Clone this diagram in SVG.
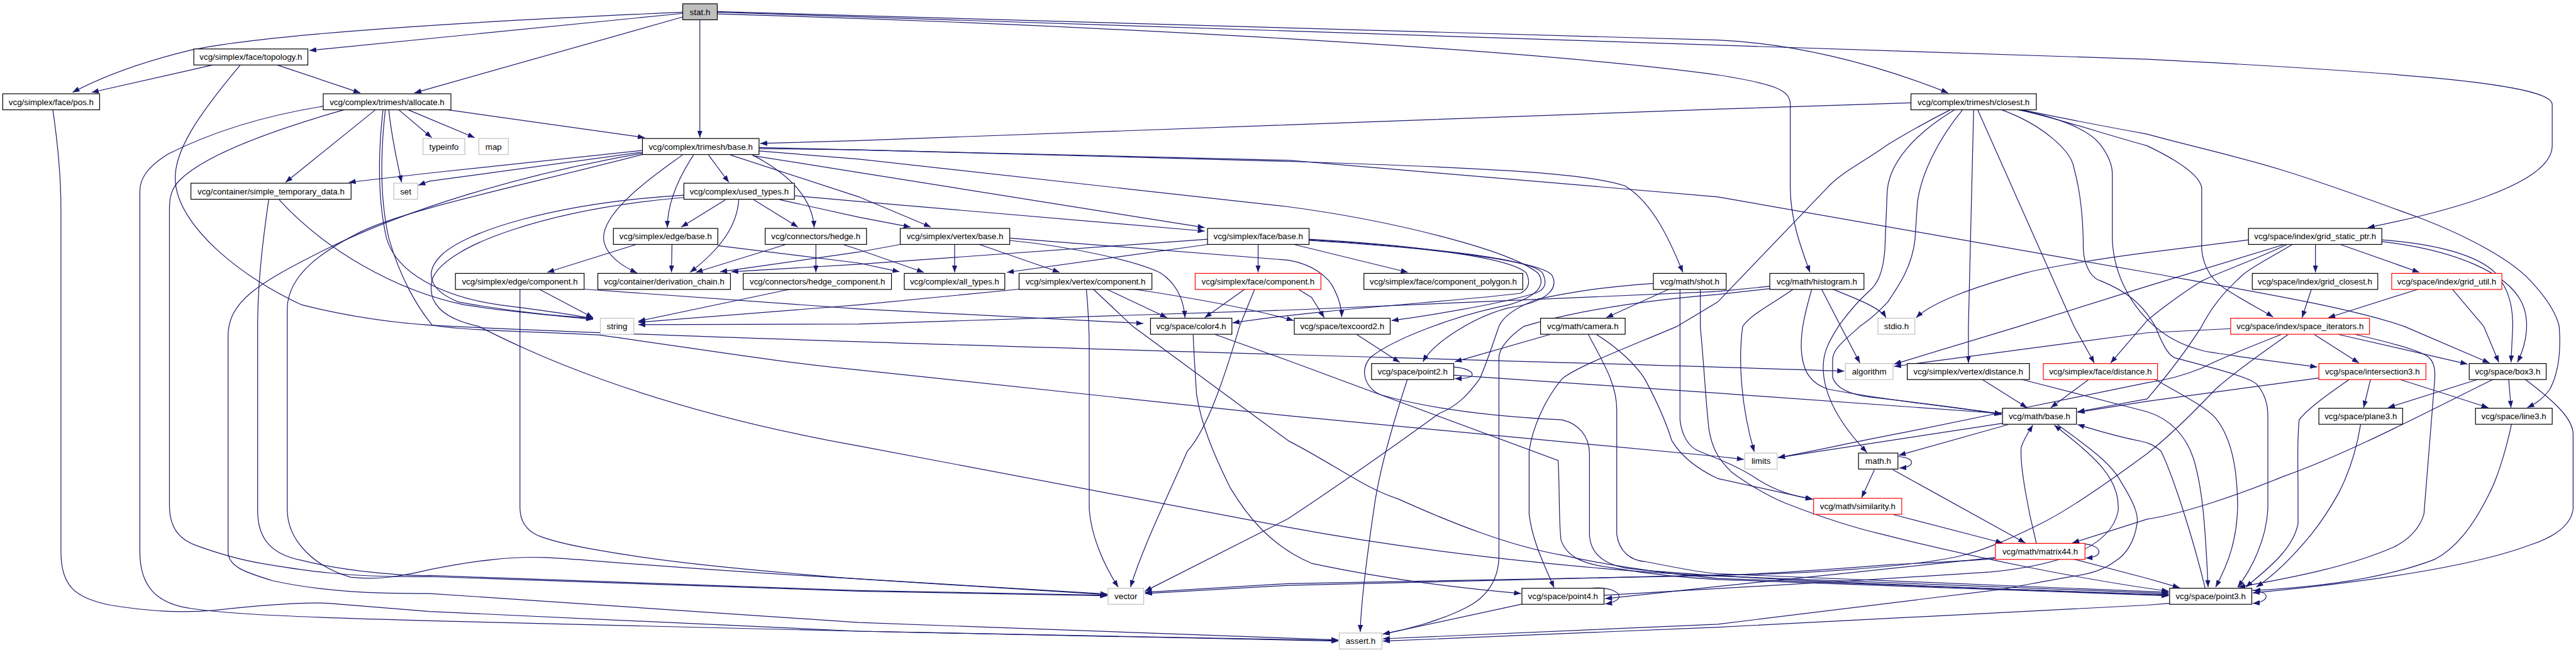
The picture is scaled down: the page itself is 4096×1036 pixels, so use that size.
<svg xmlns="http://www.w3.org/2000/svg" width="4096" height="1036" viewBox="0 0 4096 1036">
<defs>
<marker id="a" markerUnits="userSpaceOnUse" viewBox="0 0 12 9" markerWidth="12" markerHeight="9" refX="12" refY="4.5" orient="auto"><path d="M0,0 L12,4.5 L0,9 z" fill="#191970"/></marker>
<style>
.nd rect{fill:#fff;stroke:#000;stroke-width:1.3}
.nd.red rect{stroke:#ff0000}
.nd.sys rect{stroke:#bfbfbf}
.nd.root rect{fill:#bfbfbf}
.nd text{font-family:"Liberation Sans",Arial,sans-serif;font-size:14.5px;fill:#000;text-anchor:middle}
#edges path{fill:none;stroke:#191970;stroke-width:1.3;marker-end:url(#a)}
</style>
</defs>
<rect width="4096" height="1036" fill="#fff"/>
<g transform="scale(0.922731)">
<g id="edges">
<path d="M1177,23 L533,87"/>
<path d="M1177,21 C900,33 480,55 330,86 C250,105 180,130 125,159"/>
<path d="M1177,29 L714,160"/>
<path d="M1206,35 L1206,237"/>
<path d="M1236,20 L2960,69 C3080,74 3220,105 3357,160"/>
<path d="M1236,21 L3700,102 C4150,125 4398,145 4398,180 L4398,251 C4398,320 4200,368 4080,392"/>
<path d="M1236,24 C1800,40 2600,80 2960,129 C3060,145 3085,155 3085,180 L3085,322 C3085,380 3105,430 3119,469"/>
<path d="M366,112 L158,159"/>
<path d="M478,112 L621,160"/>
<path d="M414,112 C340,200 300,260 302,310 C305,390 420,480 520,525 C620,550 700,558 760,561 C1300,588 2500,617 3178,639"/>
<path d="M687,189 L744,237"/>
<path d="M703,189 L818,237"/>
<path d="M771,189 L1111,237"/>
<path d="M670,189 C675,240 685,280 692,314"/>
<path d="M647,189 L492,314"/>
<path d="M557,183 C450,200 360,230 290,265 C250,290 241,310 241,330 L241,950 C241,1010 270,1040 330,1048 C400,1058 500,1062 740,1069 L1480,1087 L2306,1104"/>
<path d="M593,189 C450,230 350,270 310,310 C295,325 292,340 292,360 L292,870 C292,910 310,930 340,940 C390,958 420,965 450,970 C520,982 600,995 740,993 L1480,1018 L1908,1026"/>
<path d="M660,189 C652,260 650,340 666,410 C683,470 760,510 860,525 C940,535 990,542 1022,549"/>
<path d="M664,189 C656,260 654,340 670,410 C690,480 720,530 745,560 C800,570 950,572 1033,577 C1200,600 1350,625 1480,637 L2220,716 L2960,786 L3005,791"/>
<path d="M91,189 C100,250 105,300 105,360 L105,950 C105,1010 130,1030 190,1042 C240,1050 300,1057 368,1051 C450,1042 520,1036 566,1039 C640,1045 700,1050 740,1053 L1480,1087 L2306,1103"/>
<path d="M463,344 C455,400 444,480 444,560 L444,880 C444,930 470,955 520,965 C600,985 700,992 740,991 L1480,1017 L1908,1025"/>
<path d="M481,344 C560,430 680,500 800,525 C900,540 980,545 1022,550"/>
<path d="M1107,259 L740,298 L601,314"/>
<path d="M1107,262 L740,312 L721,319"/>
<path d="M1107,264 C900,300 700,360 560,430 C440,490 393,520 393,580 L393,950 C393,975 420,985 470,1000 C560,1020 650,1022 740,1022 L1480,1072 L2306,1102"/>
<path d="M1107,266 C900,320 700,360 620,400 C540,440 497,480 495,530 L495,877 C495,930 540,975 604,994 C660,1000 700,990 740,981 C820,965 880,958 940,960 C1000,962 1100,975 1480,997 L1908,1023"/>
<path d="M1221,267 L1256,314"/>
<path d="M1195,267 C1170,305 1150,350 1150,392"/>
<path d="M1176,267 C1100,320 1040,370 1040,410 C1042,440 1075,460 1098,470"/>
<path d="M1297,267 C1360,300 1400,340 1403,392"/>
<path d="M1259,267 L1480,339 L1604,391"/>
<path d="M1297,268 L1480,297 L2076,392"/>
<path d="M1308,256 L1480,258 L2220,278 C2600,290 2740,300 2800,320 C2850,350 2880,420 2900,469"/>
<path d="M1308,254 L2220,276 L2960,339 L3700,469 C3900,505 4050,530 4143,562 L4290,625"/>
<path d="M1308,260 L1480,274 L2220,356 C2400,380 2600,430 2650,470 C2665,490 2650,510 2600,525 C2500,545 2400,585 2362,615 C2340,640 2355,670 2380,680 C2450,700 2550,716 2692,723 C2720,730 2738,750 2739,780 L2739,920 C2740,950 2760,970 2800,978 C2900,992 3300,1010 3737,1024"/>
<path d="M3293,177 L2960,188 L2220,215 L1480,242 L1310,247"/>
<path d="M1096,421 L943,469"/>
<path d="M1158,421 L1157,469"/>
<path d="M1237,423 L1480,453 L1550,468"/>
<path d="M1250,344 L1174,391"/>
<path d="M1299,344 L1375,391"/>
<path d="M1273,344 C1270,390 1240,430 1189,469"/>
<path d="M1344,344 L1480,374 L1569,391"/>
<path d="M1369,337 L1480,347 L2076,398"/>
<path d="M1178,336 C950,350 800,400 760,440 C730,470 740,500 790,520 C900,540 980,545 1022,548"/>
<path d="M1178,340 C950,360 770,420 745,480 C735,520 760,548 825,562 C900,600 1100,700 1480,768 L2220,908 C2500,960 2800,985 2960,992 L3737,1022"/>
<path d="M1354,421 L1199,469"/>
<path d="M1406,421 L1406,469"/>
<path d="M1453,421 L1480,430 L1592,469"/>
<path d="M1551,421 L1480,434 L1241,468"/>
<path d="M1645,421 L1645,469"/>
<path d="M1688,421 L1826,469"/>
<path d="M1740,410 L2220,448 C2260,455 2290,475 2300,500 C2310,520 2312,535 2312,546"/>
<path d="M1740,414 C1850,425 1960,450 2000,470 C2030,490 2040,520 2042,547"/>
<path d="M2081,412 L1480,455 L1260,468"/>
<path d="M2081,421 L1735,469"/>
<path d="M2168,421 L2168,469"/>
<path d="M2230,421 L2426,469"/>
<path d="M2256,412 C2400,420 2600,440 2630,470 C2640,490 2630,500 2620,505 C2500,520 2300,530 2124,556"/>
<path d="M2256,413 C2450,425 2640,445 2658,470 C2668,490 2660,500 2645,505 C2580,525 2450,545 2398,552"/>
<path d="M2256,414 C2480,428 2660,450 2675,475 C2685,495 2670,520 2600,530 C2540,545 2470,590 2452,623"/>
<path d="M929,498 L1022,547"/>
<path d="M896,498 L896,874 C896,900 910,915 929,923 C960,935 1000,942 1023,946 C1100,960 1200,975 1480,997 L1908,1024"/>
<path d="M1007,498 L1480,532 L1970,557"/>
<path d="M1362,498 L1100,553"/>
<path d="M1756,498 L1480,525 L1100,555"/>
<path d="M1872,498 C1875,530 1877,560 1877,600 L1877,877 C1880,920 1900,970 1927,1011"/>
<path d="M1884,498 L1952,562 L2220,759 C2300,800 2350,840 2409,859 C2500,900 2600,940 2692,956 C2800,980 2900,990 2960,996 L3737,1025"/>
<path d="M1907,498 L2011,547"/>
<path d="M1954,498 C2100,520 2180,538 2229,552"/>
<path d="M2145,498 L2076,547"/>
<path d="M2162,498 L2136,562 C2110,650 2080,740 2046,777 C2010,860 1970,940 1948,1011"/>
<path d="M2237,498 L2260,512 L2282,547"/>
<path d="M2056,576 C2058,620 2060,650 2062,680 C2070,730 2090,780 2120,840 C2150,890 2190,940 2260,970 C2400,1000 2540,1015 2621,1022"/>
<path d="M2094,576 L2220,621 L2685,793 C2688,850 2686,900 2690,930 C2700,960 2730,972 2780,978 C2850,990 2900,995 2960,998 L3737,1026"/>
<path d="M2338,576 L2412,624"/>
<path d="M2425,654 C2400,730 2380,800 2370,860 C2355,960 2345,1040 2344,1088"/>
<path d="M2505,632 C2528,634 2537,640 2537,645 C2537,650 2527,652 2507,652"/>
<path d="M2505,646 L2960,677 L3449,712"/>
<path d="M2624,1040 L2383,1092"/>
<path d="M2740,1013 C2775,1010 2790,1020 2790,1027 C2790,1033 2780,1038 2766,1040"/>
<path d="M2764,1025 C2900,1018 3200,1000 3430,985 C3580,970 3640,930 3650,880 C3655,820 3600,780 3540,732"/>
<path d="M3438,960 C3300,975 3100,995 2960,1010 L2766,1031"/>
<path d="M3158,498 C3200,515 3240,530 3250,547"/>
<path d="M3139,498 L3172,562 L3205,625"/>
<path d="M3122,498 C3110,540 3103,570 3104,600 C3106,640 3120,660 3150,670 C3250,690 3400,705 3449,713"/>
<path d="M3090,498 C3060,520 3018,540 3003,562 C2995,620 3000,700 3023,778"/>
<path d="M3050,493 L2960,502 L2220,534 L1480,558 L1100,559"/>
<path d="M3050,497 L2960,507 C2800,520 2700,540 2626,562 C2600,580 2583,600 2583,616 L2583,956 C2583,1000 2560,1030 2527,1046 C2480,1070 2420,1085 2383,1092"/>
<path d="M2876,498 L2768,547"/>
<path d="M2849,488 C2750,495 2700,505 2650,515 C2610,530 2590,545 2583,562 C2570,600 2560,630 2550,652 C2530,680 2510,700 2480,712 C2400,770 2300,840 2220,893 L1973,1018"/>
<path d="M2895,498 L2895,723 C2898,750 2910,770 2928,777 C2960,790 3000,805 3031,827 C3060,845 3090,855 3123,859"/>
<path d="M2930,498 L2930,562 C2938,650 2940,700 2945,740 C2950,770 2960,790 2984,813 C3020,840 3060,860 3078,867 C3150,895 3200,910 3243,920 C3400,960 3600,1000 3737,1018"/>
<path d="M2671,576 L2507,623"/>
<path d="M2737,576 C2760,620 2786,660 2786,705 L2786,920 C2790,950 2810,965 2834,967 C2880,975 2920,985 2960,988 L3737,1020"/>
<path d="M2751,576 C2790,600 2820,630 2834,652 C2860,700 2875,740 2881,759 C2900,790 2930,810 2960,824 L3124,860"/>
<path d="M3361,189 C3300,220 3250,250 3243,256 C3200,285 3170,300 3149,323 L2960,520 L2890,562 C2800,600 2720,630 2692,652 C2660,690 2640,740 2635,777 L2635,885 C2640,930 2660,970 2678,1012"/>
<path d="M3368,189 C3300,230 3255,280 3252,330 L3248,430 C3245,470 3235,490 3220,502 C3195,525 3180,545 3168,562 C3150,590 3140,610 3142,640 C3145,690 3180,740 3217,779"/>
<path d="M3382,189 C3340,240 3310,300 3304,350 L3300,412 C3295,460 3270,495 3253,520 C3230,545 3215,555 3205,562 C3180,585 3158,600 3158,620 L3158,650 C3165,670 3190,680 3224,684 C3320,695 3400,705 3449,714"/>
<path d="M3401,189 L3392,562 L3392,625"/>
<path d="M3408,189 L3574,562 L3609,625"/>
<path d="M3449,189 C3520,215 3570,260 3574,290 C3585,330 3590,380 3590,430 C3592,460 3605,480 3621,484 C3660,500 3690,520 3714,562 C3725,590 3735,610 3747,616 C3800,630 3880,650 3889,662 C3905,680 3908,700 3908,716 L3908,877 C3905,930 3880,980 3856,1011"/>
<path d="M3477,189 C3540,200 3600,222 3620,250 C3635,270 3640,287 3640,300 L3640,412 C3642,470 3670,520 3700,550 C3730,580 3760,595 3800,605 C3880,618 3950,626 3993,632"/>
<path d="M3479,189 C3550,205 3620,229 3700,251 C3750,275 3790,300 3794,323 L3794,430 C3798,470 3820,490 3842,502 C3870,520 3900,535 3917,546"/>
<path d="M3484,189 C3560,205 3640,220 3700,231 C3780,253 3860,270 3936,294 C4020,320 4100,350 4172,376 C4260,410 4330,450 4361,484 C4390,515 4405,540 4410,562 C4413,600 4410,640 4394,670 C4380,690 4365,697 4355,702"/>
<path d="M3875,413 L3700,435 C3600,448 3520,462 3490,470 C3400,495 3330,520 3302,547"/>
<path d="M3936,421 L3700,493 L3479,562 L3264,627"/>
<path d="M3941,421 C3880,450 3820,470 3794,484 C3760,505 3720,535 3700,552 L3637,625"/>
<path d="M3950,421 C3910,445 3880,460 3865,473 C3830,505 3810,530 3794,562 C3770,600 3740,640 3700,687 L3580,709"/>
<path d="M3990,421 L3990,469"/>
<path d="M4033,421 L4169,469"/>
<path d="M4104,413 C4200,420 4270,440 4300,470 C4325,500 4330,530 4330,562 L4327,624"/>
<path d="M4104,416 C4230,430 4320,470 4345,520 C4360,550 4355,590 4338,624"/>
<path d="M3983,498 L3967,547"/>
<path d="M4167,498 L4012,547"/>
<path d="M4226,498 L4280,562 L4306,624"/>
<path d="M3844,566 L3700,573 L3264,631"/>
<path d="M3931,576 C3870,600 3820,620 3794,634 C3760,648 3730,655 3700,659 C3600,680 3400,720 3280,745 C3200,760 3120,778 3064,788"/>
<path d="M3943,576 C3880,620 3840,650 3818,670 C3780,710 3740,750 3700,781 C3620,840 3560,880 3520,900 C3470,925 3420,948 3375,958 C3300,975 3100,990 2960,990 L2220,1008 L1973,1022"/>
<path d="M3988,576 L4065,625"/>
<path d="M4030,576 L4252,627"/>
<path d="M4059,576 C4120,590 4172,605 4185,615 C4196,625 4197,640 4195,660 L4177,885 C4170,910 4150,930 4125,942 C4050,975 3950,995 3857,1011"/>
<path d="M3415,653 L3493,702"/>
<path d="M3482,653 L3700,709 C3750,725 3770,760 3780,790 C3795,840 3800,900 3805,1011"/>
<path d="M3600,653 L3534,702"/>
<path d="M3713,653 C3760,680 3800,700 3818,720 C3850,760 3855,820 3856,870 C3855,930 3840,970 3818,1011"/>
<path d="M3996,651 L3700,691 L3580,710"/>
<path d="M4049,653 C4010,680 3975,705 3962,723 C3958,760 3960,800 3960,850 L3960,902 C3950,950 3900,985 3870,1011"/>
<path d="M4085,653 L4073,702"/>
<path d="M4134,653 L4288,702"/>
<path d="M4271,653 L4115,702"/>
<path d="M4323,653 L4327,702"/>
<path d="M4297,653 C4200,700 4050,780 3936,820 C3850,855 3760,885 3700,894 L3571,935"/>
<path d="M4351,653 C4400,690 4434,720 4434,748 L4434,877 C4430,905 4400,925 4361,938 C4250,980 4050,1005 3882,1021"/>
<path d="M4068,730 C4060,780 4045,820 4030,849 C4010,885 3995,905 3983,920 C3950,960 3920,990 3888,1011"/>
<path d="M4328,730 C4315,790 4300,830 4290,849 C4260,910 4230,945 4196,963 C4100,1000 3980,1012 3883,1017"/>
<path d="M3880,1016 C3898,1018 3905,1022 3905,1027 C3905,1033 3895,1038 3882,1039"/>
<path d="M3739,1039 L3700,1042 L2960,1080 L2383,1104"/>
<path d="M3800,1013 C3780,930 3745,820 3724,777 C3710,765 3700,762 3690,760 C3640,750 3610,740 3580,731"/>
<path d="M3451,729 L3064,788"/>
<path d="M3461,731 L3272,784"/>
<path d="M3545,731 C3600,770 3640,800 3655,830 C3680,870 3686,890 3682,905 C3678,930 3665,955 3644,967 C3620,985 3590,990 3574,992 C3500,1005 3450,1015 3432,1017 L2960,1075 L2383,1100"/>
<path d="M3230,809 L3208,857"/>
<path d="M3262,809 L3490,935"/>
<path d="M3271,786 C3290,788 3294,793 3294,796 C3294,801 3288,805 3273,806"/>
<path d="M3262,886 L3451,935"/>
<path d="M3509,935 C3495,880 3480,800 3483,770 C3488,755 3495,745 3503,732"/>
<path d="M3438,962 C3360,968 3300,970 3262,972 C3100,985 2990,990 2960,991 L2220,1005 L1973,1020"/>
<path d="M3574,963 L3700,996 L3756,1012"/>
<path d="M3580,936 C3605,936 3617,943 3617,950 C3617,956 3610,960 3594,961"/>
</g>
<g id="n-stat" class="nd root"><rect x="1176.5" y="6.5" width="59.5" height="27.6"/><text x="1206.3" y="25.5">stat.h</text></g>
<g id="n-topology" class="nd"><rect x="334" y="84.3" width="196.5" height="27.6"/><text x="432.3" y="103.3">vcg/simplex/face/topology.h</text></g>
<g id="n-pos" class="nd"><rect x="4.7" y="161.5" width="167" height="27.6"/><text x="88.2" y="180.5">vcg/simplex/face/pos.h</text></g>
<g id="n-allocate" class="nd"><rect x="557" y="161.5" width="220" height="27.6"/><text x="667" y="180.5">vcg/complex/trimesh/allocate.h</text></g>
<g id="n-closest" class="nd"><rect x="3293" y="161.5" width="216" height="27.6"/><text x="3401" y="180.5">vcg/complex/trimesh/closest.h</text></g>
<g id="n-typeinfo" class="nd sys"><rect x="729" y="238.5" width="72" height="27.6"/><text x="765" y="257.5">typeinfo</text></g>
<g id="n-map" class="nd sys"><rect x="825" y="238.5" width="51" height="27.6"/><text x="850.5" y="257.5">map</text></g>
<g id="n-base" class="nd"><rect x="1107" y="238.5" width="201" height="27.6"/><text x="1207.5" y="257.5">vcg/complex/trimesh/base.h</text></g>
<g id="n-simple_temporary_data" class="nd"><rect x="329" y="315.5" width="276" height="27.6"/><text x="467" y="334.5">vcg/container/simple_temporary_data.h</text></g>
<g id="n-set" class="nd sys"><rect x="678.6" y="315.5" width="41" height="27.6"/><text x="699.1" y="334.5">set</text></g>
<g id="n-used_types" class="nd"><rect x="1178.5" y="315.5" width="190.5" height="27.6"/><text x="1273.8" y="334.5">vcg/complex/used_types.h</text></g>
<g id="n-edge_base" class="nd"><rect x="1057" y="393.3" width="180" height="27.6"/><text x="1147" y="412.3">vcg/simplex/edge/base.h</text></g>
<g id="n-hedge" class="nd"><rect x="1318.6" y="393.3" width="174.6" height="27.6"/><text x="1405.9" y="412.3">vcg/connectors/hedge.h</text></g>
<g id="n-vertex_base" class="nd"><rect x="1551.3" y="393.3" width="188.7" height="27.6"/><text x="1645.7" y="412.3">vcg/simplex/vertex/base.h</text></g>
<g id="n-face_base" class="nd"><rect x="2080.8" y="393.3" width="175" height="27.6"/><text x="2168.3" y="412.3">vcg/simplex/face/base.h</text></g>
<g id="n-grid_static_ptr" class="nd"><rect x="3874.6" y="393.3" width="229.8" height="27.6"/><text x="3989.5" y="412.3">vcg/space/index/grid_static_ptr.h</text></g>
<g id="n-edge_component" class="nd"><rect x="784.8" y="470.8" width="221.8" height="27.6"/><text x="895.7" y="489.8">vcg/simplex/edge/component.h</text></g>
<g id="n-derivation_chain" class="nd"><rect x="1030.2" y="470.8" width="228.5" height="27.6"/><text x="1144.5" y="489.8">vcg/container/derivation_chain.h</text></g>
<g id="n-hedge_component" class="nd"><rect x="1280.8" y="470.8" width="255.4" height="27.6"/><text x="1408.5" y="489.8">vcg/connectors/hedge_component.h</text></g>
<g id="n-all_types" class="nd"><rect x="1558.3" y="470.8" width="173.2" height="27.6"/><text x="1644.9" y="489.8">vcg/complex/all_types.h</text></g>
<g id="n-vertex_component" class="nd"><rect x="1756.1" y="470.8" width="228.9" height="27.6"/><text x="1870.6" y="489.8">vcg/simplex/vertex/component.h</text></g>
<g id="n-face_component" class="nd red"><rect x="2059.5" y="470.8" width="216.7" height="27.6"/><text x="2167.9" y="489.8">vcg/simplex/face/component.h</text></g>
<g id="n-component_polygon" class="nd"><rect x="2350.3" y="470.8" width="273.7" height="27.6"/><text x="2487.2" y="489.8">vcg/simplex/face/component_polygon.h</text></g>
<g id="n-shot" class="nd"><rect x="2849.1" y="470.8" width="125.5" height="27.6"/><text x="2911.9" y="489.8">vcg/math/shot.h</text></g>
<g id="n-histogram" class="nd"><rect x="3049.7" y="470.8" width="162.3" height="27.6"/><text x="3130.9" y="489.8">vcg/math/histogram.h</text></g>
<g id="n-grid_closest" class="nd"><rect x="3881.2" y="470.8" width="216.2" height="27.6"/><text x="3989.3" y="489.8">vcg/space/index/grid_closest.h</text></g>
<g id="n-grid_util" class="nd red"><rect x="4121.4" y="470.8" width="189.8" height="27.6"/><text x="4216.3" y="489.8">vcg/space/index/grid_util.h</text></g>
<g id="n-string" class="nd sys"><rect x="1034.5" y="548" width="57.6" height="27.6"/><text x="1063.3" y="567">string</text></g>
<g id="n-color4" class="nd"><rect x="1982.6" y="548" width="140.2" height="27.6"/><text x="2052.7" y="567">vcg/space/color4.h</text></g>
<g id="n-texcoord2" class="nd"><rect x="2230.4" y="548" width="165.2" height="27.6"/><text x="2313" y="567">vcg/space/texcoord2.h</text></g>
<g id="n-camera" class="nd"><rect x="2654.7" y="548" width="145.8" height="27.6"/><text x="2727.6" y="567">vcg/math/camera.h</text></g>
<g id="n-stdio" class="nd sys"><rect x="3236.1" y="548" width="63.7" height="27.6"/><text x="3268" y="567">stdio.h</text></g>
<g id="n-space_iterators" class="nd red"><rect x="3843.9" y="548" width="239.3" height="27.6"/><text x="3963.6" y="567">vcg/space/index/space_iterators.h</text></g>
<g id="n-point2" class="nd"><rect x="2363.5" y="626" width="141.6" height="27.6"/><text x="2434.3" y="645">vcg/space/point2.h</text></g>
<g id="n-algorithm" class="nd sys"><rect x="3179.9" y="626" width="82.1" height="27.6"/><text x="3221" y="645">algorithm</text></g>
<g id="n-vertex_distance" class="nd"><rect x="3286.6" y="626" width="210.5" height="27.6"/><text x="3391.9" y="645">vcg/simplex/vertex/distance.h</text></g>
<g id="n-face_distance" class="nd red"><rect x="3521.1" y="626" width="196.8" height="27.6"/><text x="3619.5" y="645">vcg/simplex/face/distance.h</text></g>
<g id="n-intersection3" class="nd red"><rect x="3995.9" y="626" width="184.5" height="27.6"/><text x="4088.2" y="645">vcg/space/intersection3.h</text></g>
<g id="n-box3" class="nd"><rect x="4255" y="626" width="132.6" height="27.6"/><text x="4321.3" y="645">vcg/space/box3.h</text></g>
<g id="n-math_base" class="nd"><rect x="3450.8" y="703" width="127.4" height="27.6"/><text x="3514.5" y="722">vcg/math/base.h</text></g>
<g id="n-plane3" class="nd"><rect x="3995.9" y="703" width="144.4" height="27.6"/><text x="4068.1" y="722">vcg/space/plane3.h</text></g>
<g id="n-line3" class="nd"><rect x="4265.8" y="703" width="132.2" height="27.6"/><text x="4331.9" y="722">vcg/space/line3.h</text></g>
<g id="n-limits" class="nd sys"><rect x="3006.7" y="780.2" width="55.7" height="27.6"/><text x="3034.6" y="799.2">limits</text></g>
<g id="n-math_h" class="nd"><rect x="3202.6" y="780.2" width="67.9" height="27.6"/><text x="3236.6" y="799.2">math.h</text></g>
<g id="n-similarity" class="nd red"><rect x="3125.2" y="858" width="151.9" height="27.6"/><text x="3201.2" y="877">vcg/math/similarity.h</text></g>
<g id="n-matrix44" class="nd red"><rect x="3438.5" y="935.7" width="154.4" height="27.6"/><text x="3515.7" y="954.7">vcg/math/matrix44.h</text></g>
<g id="n-vector" class="nd sys"><rect x="1909.5" y="1013" width="61.3" height="27.6"/><text x="1940.2" y="1032">vector</text></g>
<g id="n-point4" class="nd"><rect x="2622.6" y="1013" width="141.5" height="27.6"/><text x="2693.4" y="1032">vcg/space/point4.h</text></g>
<g id="n-point3" class="nd"><rect x="3738.7" y="1013" width="141.6" height="27.6"/><text x="3809.5" y="1032">vcg/space/point3.h</text></g>
<g id="n-assert" class="nd sys"><rect x="2307.8" y="1090" width="73.6" height="27.6"/><text x="2344.6" y="1109">assert.h</text></g>
</g>
</svg>
